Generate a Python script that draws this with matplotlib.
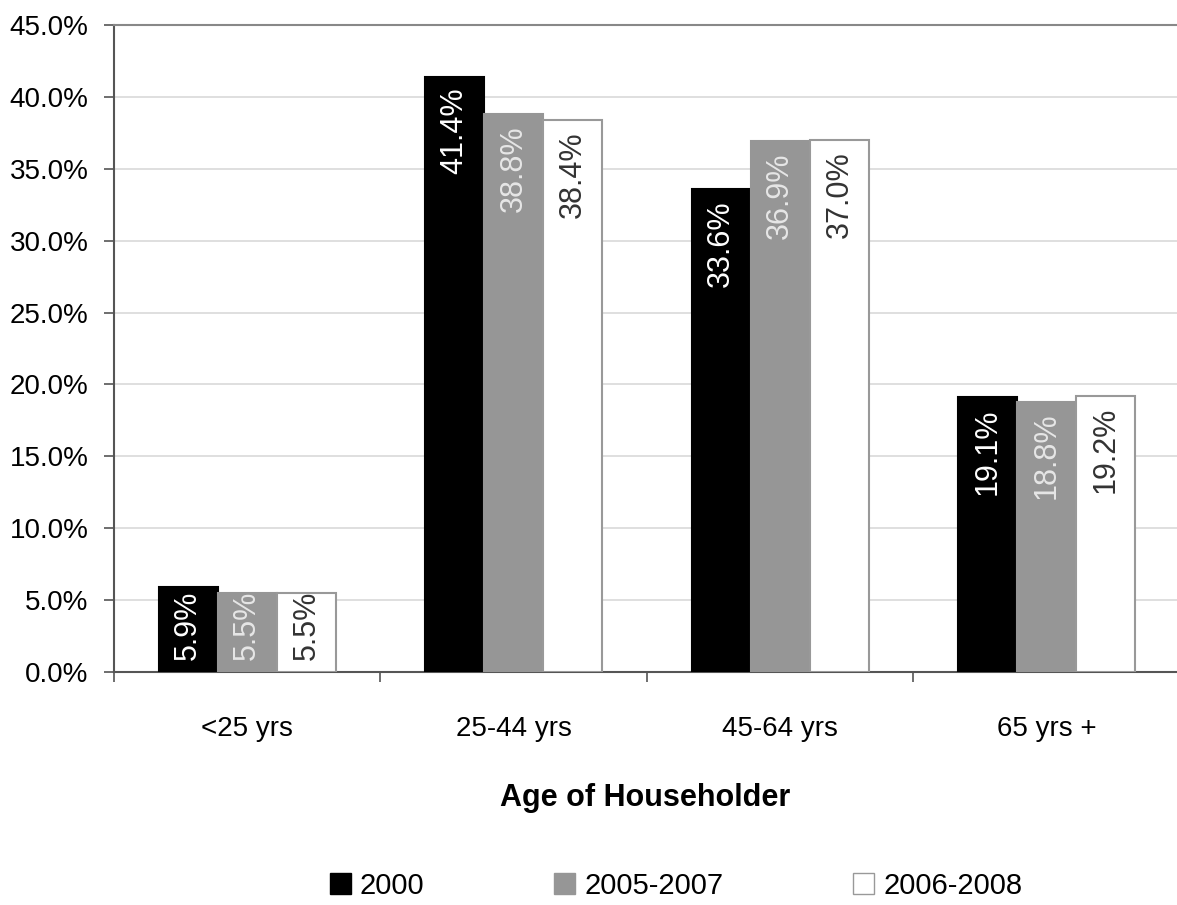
import numpy as np
import matplotlib
matplotlib.use("Agg")
from matplotlib import pyplot as plt
from matplotlib.patches import Patch

plt.rcParams['font.family'] = ['Liberation Sans', 'DejaVu Sans']

# data
age_groups = ["<25 yrs", "25-44 yrs", "45-64 yrs", "65 yrs +"]
years = ["2000", "2005-2007", "2006-2008"]
share_2000 = [5.9, 41.4, 33.6, 19.1]
share_2005_2007 = [5.5, 38.8, 36.9, 18.8]
share_2006_2008 = [5.5, 38.4, 37.0, 19.2]
series = [share_2000, share_2005_2007, share_2006_2008]

bar_colors = ["#000000", "#969696", "#ffffff"]
edge_colors = ["#000000", "#969696", "#999999"]
label_colors = ["#ffffff", "#e6e6e6", "#333333"]

fig = plt.figure(figsize=(11.77, 9.05), dpi=100)
ax = fig.add_axes([114 / 1177, 1 - 672 / 905, 1066 / 1177, 647 / 905])

x = np.arange(len(age_groups))
w = 0.222
for k in range(len(series)):
    pos = x + (k - 1) * w
    ax.bar(pos, series[k], width=w, color=bar_colors[k], edgecolor=edge_colors[k],
           linewidth=1.5, zorder=3, label=years[k])
    for p, v in zip(pos, series[k]):
        txt = "%.1f%%" % v
        if v < 10:
            # short bars: label sits on the base
            ax.annotate(txt, (p, 0), xytext=(0, 8.5), textcoords="offset points",
                        rotation=90, ha="center", va="bottom", fontsize=22,
                        color=label_colors[k], zorder=4)
        else:
            ax.annotate(txt, (p, v), xytext=(0, -8), textcoords="offset points",
                        rotation=90, ha="center", va="top", fontsize=22,
                        color=label_colors[k], zorder=4)

ax.set_xlim(-0.5, 3.5)
ax.set_ylim(0, 45)
yt = np.arange(0, 46, 5)
ax.set_yticks(yt)
ax.set_yticklabels(["%.1f%%" % t for t in yt], fontsize=20)
ax.yaxis.grid(True, color="#d9d9d9", linewidth=1.2, zorder=0)
ax.set_axisbelow(True)

ax.set_xticks(x)
ax.set_xticklabels(age_groups, fontsize=20)
ax.tick_params(axis="x", length=0, pad=32)
ax.set_xticks(np.arange(-0.5, 4, 1), minor=True)
ax.tick_params(axis="x", which="minor", length=7.2, width=1.2, color="#555555")
ax.tick_params(axis="y", length=7.2, width=1.2, color="#555555", pad=11)

for s in ["left", "bottom"]:
    ax.spines[s].set_color("#555555")
    ax.spines[s].set_linewidth(1.5)
ax.spines["right"].set_visible(False)
ax.spines["top"].set_color("#888888")
ax.spines["top"].set_linewidth(1.5)

fig.text(645 / 1177, 1 - 798 / 905, "Age of Householder", ha="center", va="center",
         fontsize=22, fontweight="bold")

handles = [Patch(facecolor=bar_colors[k], edgecolor=edge_colors[k], label=years[k])
           for k in range(3)]
fig.legend(handles=handles, loc="center", bbox_to_anchor=(676 / 1177, 1 - 886 / 905),
           ncol=3, frameon=False, fontsize=21, handlelength=0.72, handleheight=0.72,
           handletextpad=0.31, columnspacing=4.45, borderpad=0.1)

fig.savefig("out.png", dpi=100)
